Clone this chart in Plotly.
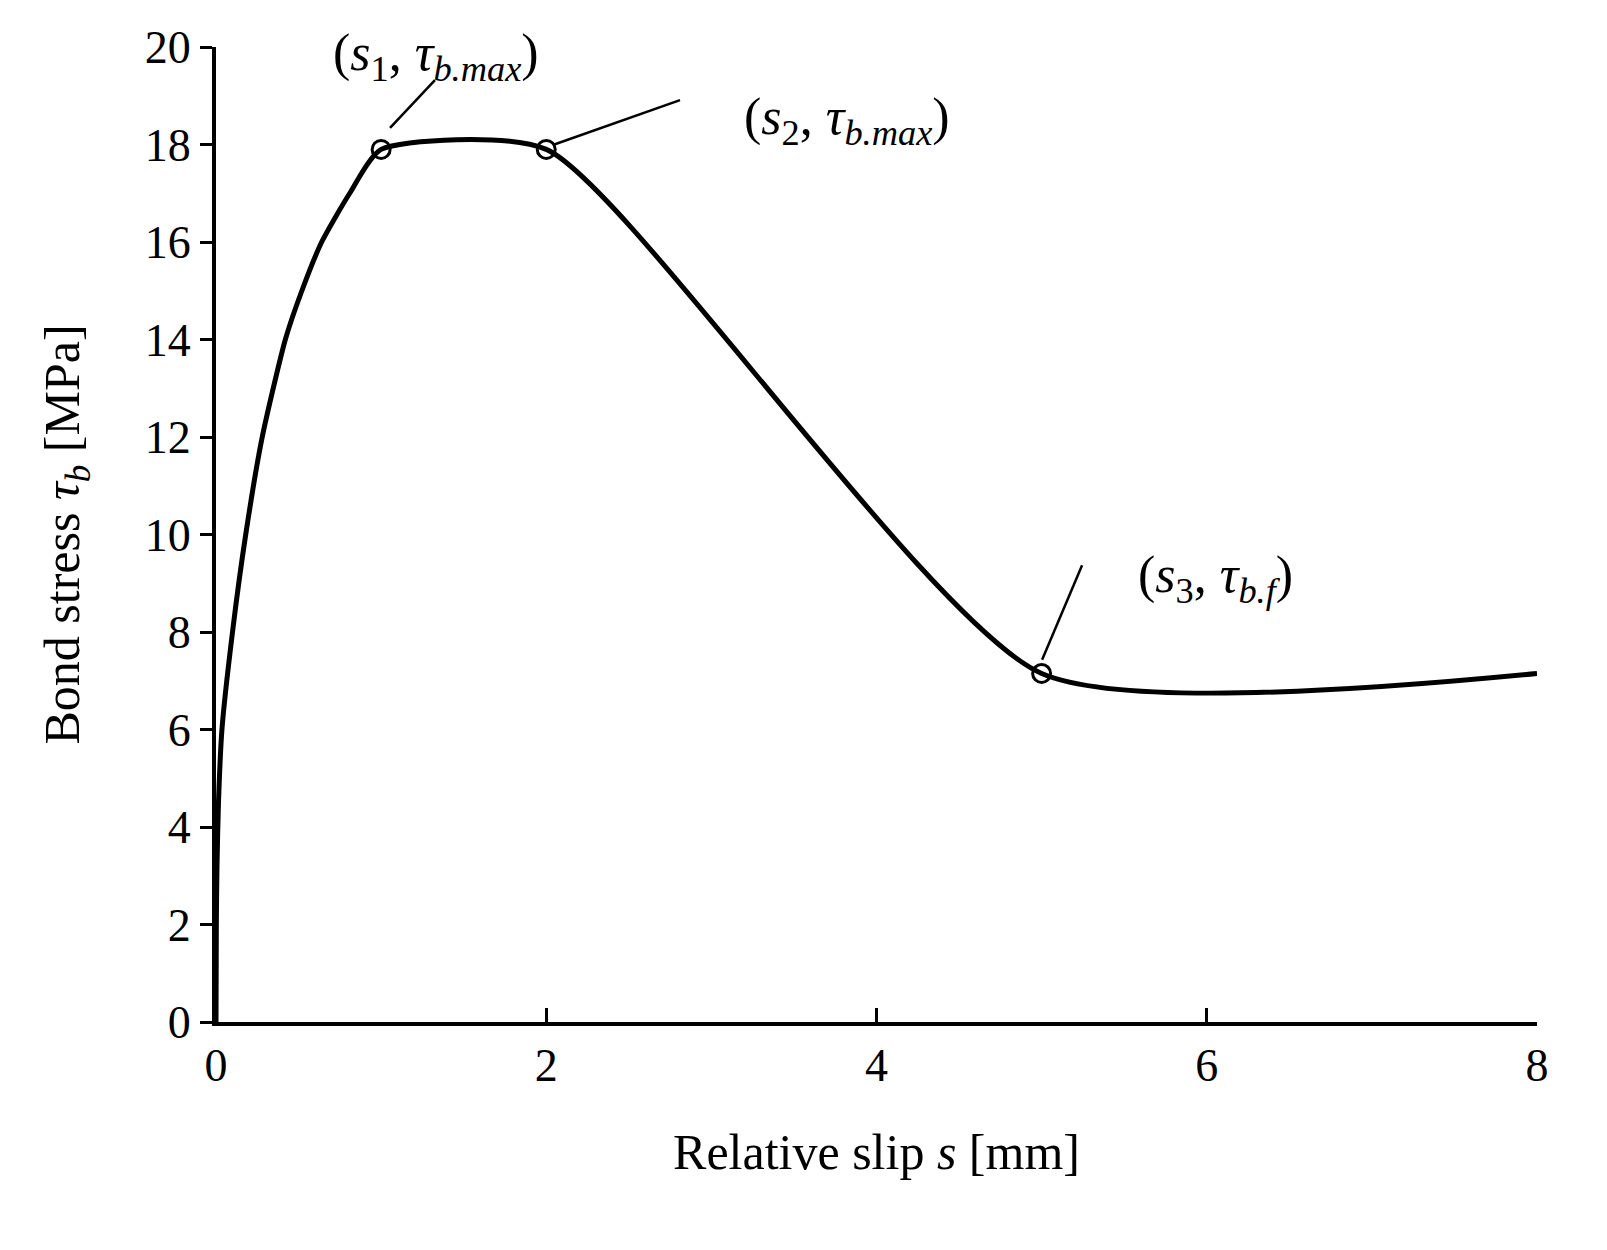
import plotly.graph_objects as go

slip = [0, 0.002, 0.006, 0.015, 0.036, 0.1, 0.18, 0.28, 0.42, 0.52, 0.64, 0.81, 1.0, 2.0, 5.0, 8.0]
stress = [0, 2.0, 3.2, 4.5, 6.0, 8.0, 10.0, 12.0, 14.0, 15.0, 16.0, 17.0, 17.9, 17.9, 7.15, 7.15]
key_s = [1.0, 2.0, 5.0]
key_t = [17.9, 17.9, 7.15]
labels = ["(<i>s</i><sub>1</sub>, <i>τ</i><sub><i>b.max</i></sub>)",
          "(<i>s</i><sub>2</sub>, <i>τ</i><sub><i>b.max</i></sub>)",
          "(<i>s</i><sub>3</sub>, <i>τ</i><sub><i>b.f</i></sub>)"]
label_pos = [(1.33, 19.8), (3.82, 18.5), (6.05, 9.1)]
leaders = [((1.054, 18.34), (1.326, 19.32)), ((2.04, 17.99), (2.81, 18.91)), ((5.003, 7.43), (5.245, 9.37))]

F = "Liberation Serif"
fig = go.Figure()
fig.add_trace(go.Scatter(x=slip, y=stress, mode="lines", line=dict(color="black", width=5, shape="spline", smoothing=0.6),
                         showlegend=False))
fig.add_trace(go.Scatter(x=key_s, y=key_t, mode="markers",
                         marker=dict(symbol="circle-open", size=18, color="black", line=dict(width=3)), showlegend=False))
for (a, b) in leaders:
    fig.add_shape(type="line", x0=a[0], y0=a[1], x1=b[0], y1=b[1], line=dict(color="black", width=2.5))
for t, (x, y) in zip(labels, label_pos):
    fig.add_annotation(x=x, y=y, text=t, showarrow=False, font=dict(family=F, size=52, color="black"))

fig.update_layout(
    width=1590, height=1234, plot_bgcolor="white", paper_bgcolor="white",
    margin=dict(l=208, r=61, t=39, b=220),
    font=dict(family=F, size=46, color="black"),
)
fig.update_xaxes(range=[0, 8], tickvals=[0, 2, 4, 6, 8], showline=True, linecolor="black", linewidth=4,
                 ticks="inside", ticklen=14, tickwidth=3, tickcolor="black", showgrid=False, zeroline=False,
                 title=dict(text="Relative slip <i>s</i> [mm]", standoff=45, font=dict(size=50)),
                 tickfont=dict(size=46))
fig.update_yaxes(range=[0, 20], tickvals=list(range(0, 21, 2)), showline=True, linecolor="black", linewidth=4,
                 ticks="outside", ticklen=12, tickwidth=3, tickcolor="black", showgrid=False, zeroline=False,
                 title=dict(text="Bond stress <i>τ<sub>b</sub></i> [MPa]", standoff=50, font=dict(size=50)),
                 tickfont=dict(size=46))
fig.write_html("out.html")
